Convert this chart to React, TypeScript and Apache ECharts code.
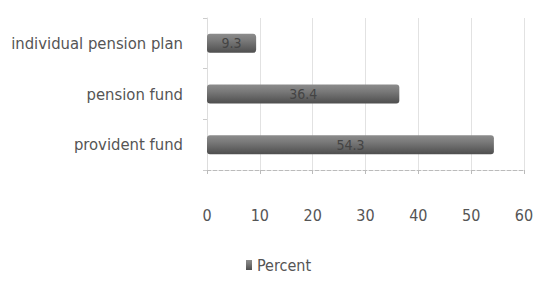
import React, { useEffect, useRef } from "react";
import * as echarts from "echarts";

const categories = ["provident fund", "pension fund", "individual pension plan"];
const percentValues = [54.3, 36.4, 9.3];
const seriesName = "Percent";
const xTicks = { min: 0, max: 60, interval: 10 };

const FONT = "'DejaVu Sans Condensed', 'Liberation Sans Narrow', sans-serif";

export default function App() {
  const ref = useRef<HTMLDivElement>(null);
  useEffect(() => {
    const chart = echarts.init(ref.current!, null, { renderer: "svg" });
    chart.setOption({
      animation: false,
      backgroundColor: "#ffffff",
      grid: { left: 207, right: 17, top: 18, bottom: 123, containLabel: false },
      legend: {
        data: [seriesName],
        bottom: 15,
        left: 241,
        itemWidth: 6,
        itemHeight: 10,
        itemGap: 6,
        textStyle: { fontFamily: FONT, fontSize: 16, color: "#555" },
        icon: "rect",
      },
      xAxis: {
        type: "value",
        min: xTicks.min,
        max: xTicks.max,
        interval: xTicks.interval,
        axisLine: { show: true, lineStyle: { color: "#bbb", type: "dashed" } },
        axisTick: { show: true, length: 4, lineStyle: { color: "#bbb" } },
        splitLine: { show: true, lineStyle: { color: "#e2e2e2" } },
        axisLabel: { margin: 37, fontFamily: FONT, fontSize: 16, color: "#555" },
      },
      yAxis: {
        type: "category",
        data: categories,
        axisLine: { show: true, lineStyle: { color: "#ddd" } },
        axisTick: { show: true, length: 4, lineStyle: { color: "#ccc" } },
        axisLabel: { margin: 24, fontFamily: FONT, fontSize: 16.5, color: "#555" },
      },
      series: [
        {
          name: seriesName,
          type: "bar",
          data: percentValues,
          barWidth: 19,
          itemStyle: {
            borderRadius: 3,
            color: new echarts.graphic.LinearGradient(0, 0, 0, 1, [
              { offset: 0, color: "#8c8c8c" },
              { offset: 0.35, color: "#7a7a7a" },
              { offset: 1, color: "#4e4e4e" },
            ]),
          },
          label: {
            show: true,
            position: "inside",
            fontFamily: FONT,
            fontSize: 14,
            color: "#444",
          },
        },
      ],
    });
    return () => chart.dispose();
  }, []);
  return <div ref={ref} style={{ width: 541, height: 293, position: "absolute", left: 0, top: 0 }} />;
}
